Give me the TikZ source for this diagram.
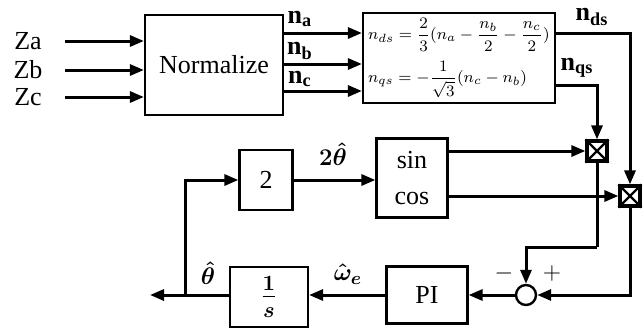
\documentclass[tikz,border=0pt]{standalone}
\usepackage{amsmath}
\usepackage{fontspec}
\setmainfont{Liberation Serif}
\usetikzlibrary{arrows.meta}

\tikzset{
    blk/.style={draw, line width=1.1pt, inner sep=0pt, font=\fontsize{13}{15}\selectfont},
    sig/.style={line width=1.5pt, -{Triangle[length=7pt,width=5.5pt]}},
    wire/.style={line width=1.5pt},
    lbl/.style={font=\fontsize{13}{15}\selectfont, inner sep=1pt},
}

\begin{document}
\begin{tikzpicture}[x=0.5pt, y=-0.5pt]
    % Rahmen in Pixelmassen des Originals
    \useasboundingbox (0,0) rectangle (643,333);

    % ==========================================
    % OBERER BEREICH: NORMIERUNG UND TRANSFORMATION
    % ==========================================
    % Normierungsblock
    \node[blk, minimum width=69pt, minimum height=50pt] (norm) at (214,65) {Normalize};

    % Eingangsgroessen
    \node[lbl] (za) at (28,41) {Za};
    \node[lbl] (zb) at (28,70) {Zb};
    \node[lbl] (zc) at (28,97) {Zc};
    \draw[sig] (65,41) -- (za -| norm.west);
    \draw[sig] (65,70) -- (zb -| norm.west);
    \draw[sig] (65,97) -- (zc -| norm.west);

    % Transformationsblock (abc -> dq)
    \node[blk, minimum width=96pt, minimum height=45pt, align=left,
          font=\fontsize{8.2}{10}\selectfont] (eq) at (459,58)
        {$n_{ds}=\dfrac{2}{3}(n_a-\dfrac{n_b}{2}-\dfrac{n_c}{2})$\\[4pt]
         $n_{qs}=-\dfrac{1}{\sqrt{3}}(n_c-n_b)$};

    % Verbindungen n_a, n_b, n_c
    \coordinate (pa) at (283,33);
    \coordinate (pb) at (283,64);
    \coordinate (pc) at (283,91);
    \draw[sig] (pa) -- (pa -| eq.west);
    \draw[sig] (pb) -- (pb -| eq.west);
    \draw[sig] (pc) -- (pc -| eq.west);
    \node[lbl] (na) at (300,19) {\textbf{n}$_\mathbf{a}$};
    \node[lbl] (nb) at (300,51) {\textbf{n}$_\mathbf{b}$};
    \node[lbl] (nc) at (300,79) {\textbf{n}$_\mathbf{c}$};

    % ==========================================
    % MITTLERER BEREICH: MULTIPLIKATION
    % ==========================================
    % Multiplizierer (Quadrat mit Kreuz)
    \node[draw, line width=1.6pt, minimum size=10pt, inner sep=0pt] (mult1) at (597,151) {};
    \node[draw, line width=1.6pt, minimum size=10pt, inner sep=0pt] (mult2) at (630,196) {};
    \draw[line width=1.2pt] (mult1.north west) -- (mult1.south east) (mult1.north east) -- (mult1.south west);
    \draw[line width=1.2pt] (mult2.north west) -- (mult2.south east) (mult2.north east) -- (mult2.south west);

    % Signale n_ds und n_qs
    \coordinate (pds) at (555,33);
    \coordinate (pqs) at (555,85);
    \draw[sig] (pds) -- (pds -| mult2) -- (mult2.north);
    \draw[sig] (pqs) -- (pqs -| mult1) -- (mult1.north);
    \node[lbl] (nds) at (592,17) {\textbf{n}$_\mathbf{ds}$};
    \node[lbl] (nqs) at (577,68) {\textbf{n}$_\mathbf{qs}$};

    % sin/cos-Block und Verstaerkung 2
    \node[blk, minimum width=35.5pt, minimum height=39.5pt, align=center] (sincos) at (412,178) {sin\\[3pt]cos};
    \node[blk, minimum width=26.5pt, minimum height=30pt] (two) at (266,180) {2};
    \draw[sig] (two.east) -- (two.east -| sincos.west);
    \node[lbl] (ltwo) at (333,154) {$\boldsymbol{2\hat{\theta}}$};

    % sin -> mult1, cos -> mult2
    \draw[sig] (sincos.east |- mult1) -- (mult1.west);
    \draw[sig] (sincos.east |- mult2) -- (mult2.west);

    % ==========================================
    % UNTERER BEREICH: PI-REGLER UND INTEGRATOR
    % ==========================================
    % Summationspunkt
    \node[draw, circle, line width=1.2pt, minimum size=10pt, inner sep=0pt] (sum) at (526,295) {};
    \node[lbl] (minus) at (504,273) {$-$};
    \node[lbl] (plus) at (552,273) {$+$};

    % Rueckfuehrungen auf den Summationspunkt
    \coordinate (knick) at (597,247);
    \draw[wire] (mult1.south) -- (knick);
    \draw[sig] (knick) -- (knick -| sum) -- (sum.north);
    \draw[sig] (mult2.south) |- (sum.east);

    % PI-Regler und Integrator
    \node[blk, minimum width=40.5pt, minimum height=28.5pt] (pi) at (427,295) {PI};
    \node[blk, minimum width=39pt, minimum height=30pt, font=\fontsize{16}{18}\selectfont] (integ) at (269,297) {$\boldsymbol{\frac{1}{s}}$};
    \draw[sig] (sum.west) -- (pi.east);
    \draw[sig] (pi.west) -- (pi.west -| integ.east);
    \node[lbl] (lomega) at (348,274) {$\boldsymbol{\hat{\omega}_e}$};

    % Ausgang theta und Rueckfuehrung auf Block 2
    \coordinate (out) at (150,295);
    \coordinate (abzw) at (185,295);
    \draw[sig] (pi.west -| integ.west) -- (out);
    \draw[sig] (abzw) -- (abzw |- two) -- (two.west);
    \node[lbl] (ltheta) at (208,273) {$\boldsymbol{\hat{\theta}}$};

\end{tikzpicture}
\end{document}
